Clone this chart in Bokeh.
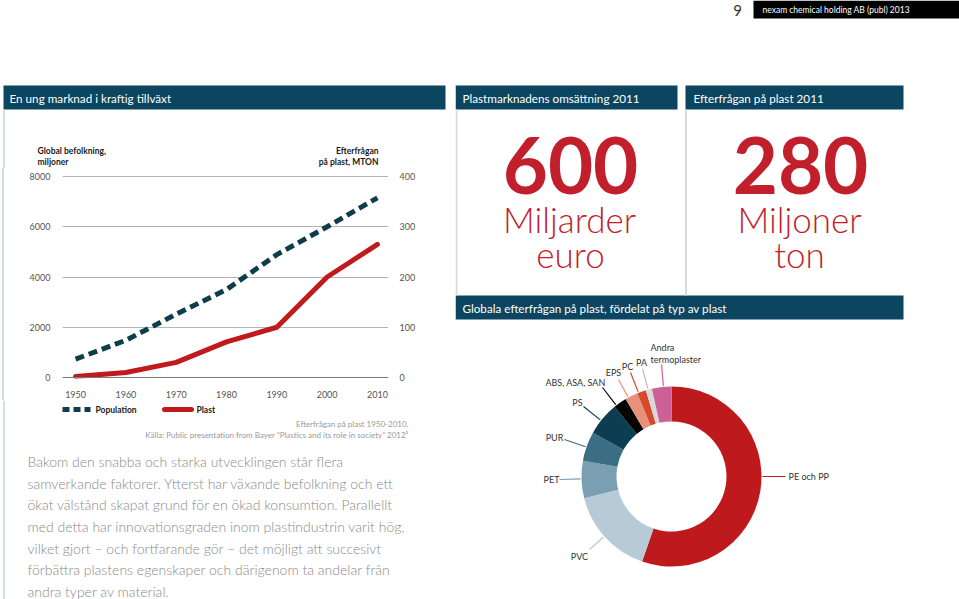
import math
from bokeh.plotting import figure
from bokeh.layouts import row, column
from bokeh.models import Range1d, LinearAxis, FixedTicker, ColumnDataSource, Span
from bokeh.core.properties import value
from bokeh.embed import file_html
from bokeh.resources import INLINE

# ---------------- data ----------------
years = [1950, 1960, 1970, 1980, 1990, 2000, 2010]
population_mn = [730, 1480, 2520, 3500, 4890, 6000, 7150]   # Global befolkning, miljoner
plastic_mton = [2, 10, 30, 71, 100, 200, 265]               # Efterfrågan på plast, MTON
left_ticks = [0, 2000, 4000, 6000, 8000]
right_ticks = [0, 100, 200, 300, 400]
year_ticks = [1950, 1960, 1970, 1980, 1990, 2000, 2010]
series_names = ["Population", "Plast"]

plastic_types = ["PE och PP", "PVC", "PET", "PUR", "PS", "ABS, ASA, SAN",
                 "EPS", "PC", "PA", "Andra termoplaster"]
plastic_share = [55.3, 15.8, 6.7, 5.3, 6.0, 2.4, 2.3, 1.6, 1.1, 3.5]

turnover_value = "600"
turnover_unit = ["Miljarder", "euro"]
demand_value = "280"
demand_unit = ["Miljoner", "ton"]

paragraph = [
    "Bakom den snabba och starka utvecklingen står flera",
    "samverkande faktorer. Ytterst har växande befolkning och ett",
    "ökat välstånd skapat grund för en ökad konsumtion. Parallellt",
    "med detta har innovationsgraden inom plastindustrin varit hög,",
    "vilket gjort – och fortfarande gör – det möjligt att succesivt",
    "förbättra plastens egenskaper och därigenom ta andelar från",
    "andra typer av material.",
]

# ---------------- styles ----------------
HEAD = "#0b4560"
RED = "#c21f2d"
LINE_RED = "#c01a1e"
DASH = "#0e3d4c"
SEP = "#d3dde3"
F = "Lato"
FL = "Lato Light"
HEAD_SIZE = 11.7
slice_colors = ["#be1a1e", "#b7cbd7", "#7a9eb2", "#3b6d85", "#0c3d50", "#050505",
                "#e8917a", "#d7492d", "#d9d9d9", "#cc6198"]


def canvas(x0, x1, y0, y1):
    p = figure(width=int(x1 - x0), height=int(y1 - y0),
               x_range=Range1d(x0, x1), y_range=Range1d(y1, y0),
               output_backend="svg", toolbar_location=None,
               x_axis_location=None, y_axis_location=None, min_border=0)
    p.outline_line_color = None
    p.xgrid.visible = False
    p.ygrid.visible = False
    return p


def txt(p, x, y, s, size, color, font=F, style="normal", align="left", baseline="middle"):
    p.text(x=[x], y=[y], text=[s], text_font=value(font), text_font_size=f"{size}px",
           text_color=color, text_font_style=style, text_align=align, text_baseline=baseline)


# ---------------- left top ----------------
L1 = canvas(0, 455, 0, 168)
L1.quad(left=[3], right=[445], top=[85], bottom=[109], color=HEAD, line_color=None)
L1.segment(x0=[3.5], y0=[109], x1=[3.5], y1=[168], line_color=SEP, line_width=2)
txt(L1, 9, 97.5, "En ung marknad i kraftig tillväxt", HEAD_SIZE, "white")
txt(L1, 37, 150, "Global befolkning,", 8.5, "#1a1a1a", style="bold")
txt(L1, 37, 161, "miljoner", 8.5, "#1a1a1a", style="bold")
txt(L1, 378, 150, "Efterfrågan", 8.5, "#1a1a1a", style="bold", align="right")
txt(L1, 378, 161, "på plast, MTON", 8.5, "#1a1a1a", style="bold", align="right")

# ---------------- line chart ----------------
chart = figure(width=455, height=232, x_range=Range1d(1947.4, 2012.2), y_range=Range1d(-40, 8040),
               output_backend="svg", toolbar_location=None,
               min_border_left=62, min_border_right=67, min_border_top=7, min_border_bottom=18)
chart.outline_line_color = None
chart.border_fill_color = None
chart.background_fill_color = "white"
chart.styles = {"background": "linear-gradient(to right, #ffffff 2.5px, %s 2.5px, %s 4.5px, #ffffff 4.5px)" % (SEP, SEP)}
chart.extra_y_ranges = {"right": Range1d(-2, 402)}
ax_r = LinearAxis(y_range_name="right", ticker=FixedTicker(ticks=right_ticks))
chart.add_layout(ax_r, "right")
chart.xaxis.ticker = FixedTicker(ticks=year_ticks)
chart.yaxis[0].ticker = FixedTicker(ticks=left_ticks)
for ax in [chart.xaxis[0], chart.yaxis[0], ax_r]:
    ax.axis_line_color = None
    ax.major_tick_line_color = None
    ax.minor_tick_line_color = None
    ax.major_label_text_font = F
    ax.major_label_text_font_size = "9px"
    ax.major_label_text_color = "#555555"
chart.yaxis[0].major_label_standoff = 6
ax_r.major_label_standoff = 5
chart.xaxis[0].major_label_standoff = 6
chart.xgrid.visible = False
chart.ygrid.ticker = FixedTicker(ticks=left_ticks[1:])
chart.ygrid.grid_line_color = "#b4b4b4"
chart.add_layout(Span(location=0, dimension="width", line_color="#7a7a7a", line_width=1))

chart.line(years, population_mn, line_color=DASH, line_width=5, line_dash="9 5")
chart.line(years, plastic_mton, y_range_name="right", line_color=LINE_RED, line_width=5,
           line_join="round", line_cap="round")

# ---------------- left bottom ----------------
L3 = canvas(0, 455, 400, 599)
L3.segment(x0=[3.5], y0=[400], x1=[3.5], y1=[599], line_color=SEP, line_width=2)
# legend keys
L3.segment(x0=[62], y0=[409], x1=[90], y1=[409], line_color=DASH, line_width=5, line_dash="7 4")
L3.segment(x0=[164], y0=[409], x1=[191], y1=[409], line_color=LINE_RED, line_width=5, line_cap="round")
txt(L3, 95, 409, series_names[0], 8.5, "#1a1a1a", style="bold")
txt(L3, 196, 409, series_names[1], 8.5, "#1a1a1a", style="bold")
txt(L3, 408, 423, "Efterfrågan på plast 1950-2010.", 8, "#999999", align="right")
txt(L3, 408, 434, "Källa: Public presentation from Bayer \u201dPlastics and its role in society\u201d 2012\u00b2",
    8, "#999999", align="right")
for i, line in enumerate(paragraph):
    txt(L3, 27, 461 + i * 21.67, line, 14, "#8a8a8a", font=FL)

# ---------------- right top ----------------
R1 = canvas(455, 959, 0, 320)
R1.quad(left=[753], right=[960], top=[0], bottom=[18], color="black", line_color=None)
txt(R1, 762, 9, "nexam chemical holding AB  (publ) 2013", 8.5, "white")
txt(R1, 737, 9.5, "9", 15, "#333333", align="center")
R1.quad(left=[455, 685, 455], right=[677, 903, 903], top=[85, 85, 295], bottom=[109, 109, 319],
        color=HEAD, line_color=None)
txt(R1, 462, 97, "Plastmarknadens omsättning 2011", HEAD_SIZE, "white")
txt(R1, 693, 97, "Efterfrågan på plast 2011", HEAD_SIZE, "white")
txt(R1, 462, 307, "Globala efterfrågan på plast, fördelat på typ av plast", HEAD_SIZE, "white")
R1.segment(x0=[456, 685.5], y0=[109, 109], x1=[456, 685.5], y1=[295, 295],
           line_color=SEP, line_width=2)

txt(R1, 570, 165, turnover_value, 78, RED, style="bold", align="center")
txt(R1, 569, 218, turnover_unit[0], 35, RED, font=FL, align="center")
txt(R1, 570, 253, turnover_unit[1], 35, RED, font=FL, align="center")
txt(R1, 800, 165, demand_value, 78, RED, style="bold", align="center")
txt(R1, 799, 218, demand_unit[0], 35, RED, font=FL, align="center")
txt(R1, 799, 253, demand_unit[1], 35, RED, font=FL, align="center")

# ---------------- donut ----------------
CX, CY = 671, 476          # donut centre in page pixels
R_IN, R_OUT = 55, 90
R2 = figure(width=504, height=279, x_range=Range1d(455 - CX, 959 - CX), y_range=Range1d(CY - 599, CY - 320),
            output_backend="svg", toolbar_location=None,
            x_axis_location=None, y_axis_location=None, min_border=0)
R2.outline_line_color = None
R2.xgrid.visible = False
R2.ygrid.visible = False

total = sum(plastic_share)
starts, ends = [], []
cum = 0.0
for s in plastic_share:
    starts.append(math.pi / 2 - 2 * math.pi * cum / total)
    cum += s
    ends.append(math.pi / 2 - 2 * math.pi * cum / total)
src = ColumnDataSource(dict(start=starts, end=ends, color=slice_colors, name=plastic_types))
R2.annular_wedge(x=0, y=0, inner_radius=R_IN, outer_radius=R_OUT, start_angle="start", end_angle="end",
                 direction="clock", fill_color="color", line_color=None, source=src)

# label layout (page pixels): text position, leader anchor, alignment
label_layout = {
    "PE och PP": ((788, 476), (785, 476), "left"),
    "PVC": ((579, 556), (589, 549), "center"),
    "PET": ((551, 479), (559, 479), "center"),
    "PUR": ((554, 437), (564, 439), "center"),
    "PS": ((577, 402), (583, 406), "center"),
    "ABS, ASA, SAN": ((575, 382), (602, 387), "center"),
    "EPS": ((613, 372), (618, 379), "center"),
    "PC": ((627, 366), (630, 372), "center"),
    "PA": ((641, 362), (642, 368), "center"),
    "Andra termoplaster": ((650, 353), (661, 364), "left"),
}
for name, color in zip(plastic_types, slice_colors):
    (tx, ty), (axp, ayp), align = label_layout[name]
    ax_, ay_ = axp - CX, CY - ayp
    d = math.hypot(ax_, ay_)
    R2.segment(x0=[ax_ * (R_OUT + 1) / d], y0=[ay_ * (R_OUT + 1) / d], x1=[ax_], y1=[ay_],
               line_color="#bbbbbb" if name == "PA" else color, line_width=1.2)
    label = name.replace(" ", "\n") if name == "Andra termoplaster" else name
    R2.text(x=[tx - CX], y=[CY - ty], text=[label], text_font=value(F), text_font_size="9px",
            text_color="#333333", text_align=align, text_baseline="middle", text_line_height=1.05)

# nest the chart in its own row so the canvases above/below keep their own frames
page = row(column(L1, row(chart), L3), column(R1, R2))
open("out.html", "w").write(file_html(page, INLINE))
